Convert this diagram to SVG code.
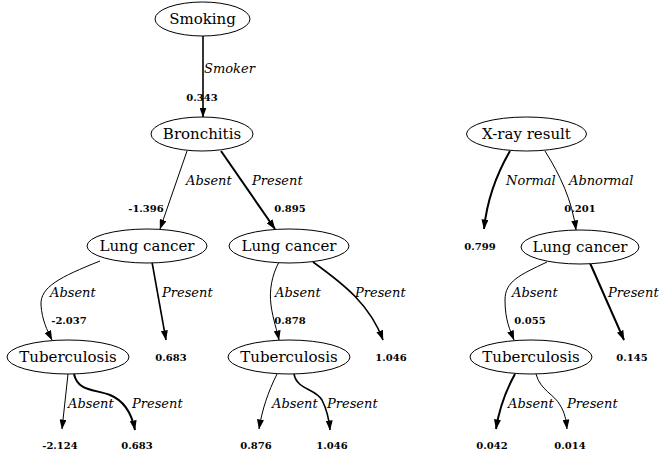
<svg xmlns="http://www.w3.org/2000/svg" width="660" height="454" viewBox="0 0 660 454">
<defs>
<marker id="ah" markerUnits="userSpaceOnUse" markerWidth="10" markerHeight="7" refX="9.5" refY="3.5" orient="auto">
<path d="M0,0 L10,3.5 L0,7 z" fill="#000"/>
</marker>
<style>
.n ellipse{fill:#fff;stroke:#000;stroke-width:1}
.n text{font-family:"DejaVu Serif",serif;font-size:15px;text-anchor:middle;fill:#000}
.e path{fill:none;stroke:#000;marker-end:url(#ah)}
.t1{stroke-width:1}
.t2{stroke-width:1.6}
.t3{stroke-width:2}
.lab{font-family:"DejaVu Serif",serif;font-style:italic;font-size:13px;fill:#000}
.num{font-family:"DejaVu Serif",serif;font-weight:bold;font-size:10px;text-anchor:middle;fill:#000}
</style>
</defs>
<rect width="660" height="454" fill="#fff"/>
<g id="connectors" class="e">
<path class="t2" d="M203,36 L203,117"/>
<path class="t1" d="M187,151 L160,229"/>
<path class="t3" d="M221,151 L275,229"/>
<path class="t3" d="M510,151 C496,175 487,200 484,229"/>
<path class="t1" d="M545,151 C560,175 572,200 576,230"/>
<path class="t1" d="M100,261 C60,277 40,287 41,305 C42,320 47,330 52,340"/>
<path class="t2" d="M152,262 L166,340"/>
<path class="t1" d="M68,374 L62,429"/>
<path class="t3" d="M74,374 C78,392 95,389 110,395 C125,401 132,415 135,430"/>
<path class="t1" d="M279,262 C272,275 269,290 271,305 C273,320 277,330 279,340"/>
<path class="t2" d="M313,262 C345,285 370,305 383,340"/>
<path class="t1" d="M277,374 C268,392 262,410 259,429"/>
<path class="t2" d="M294,374 C297,390 315,388 322,400 C327,410 329,418 330,430"/>
<path class="t1" d="M547,262 C520,275 505,281 505,300 C505,320 510,330 514,340"/>
<path class="t3" d="M590,263 L624,340"/>
<path class="t3" d="M515,374 C505,392 499,410 496,429"/>
<path class="t1" d="M536,374 C540,390 555,395 560,405 C565,413 566,420 567,429"/>
</g>
<g id="edge-labels">
<text class="lab" x="204" y="73">Smoker</text>
<text class="num" x="202" y="101">0.343</text>
<text class="lab" x="186" y="185">Absent</text>
<text class="num" x="146" y="212">-1.396</text>
<text class="lab" x="252" y="185">Present</text>
<text class="num" x="290" y="212">0.895</text>
<text class="lab" x="506" y="185">Normal</text>
<text class="num" x="480" y="250">0.799</text>
<text class="lab" x="569" y="185">Abnormal</text>
<text class="num" x="580" y="212">0.201</text>
<text class="lab" x="50" y="297">Absent</text>
<text class="num" x="69" y="324">-2.037</text>
<text class="lab" x="162" y="297">Present</text>
<text class="num" x="171" y="361">0.683</text>
<text class="lab" x="68" y="408">Absent</text>
<text class="num" x="60" y="449">-2.124</text>
<text class="lab" x="132" y="408">Present</text>
<text class="num" x="137" y="449">0.683</text>
<text class="lab" x="275" y="297">Absent</text>
<text class="num" x="290" y="324">0.878</text>
<text class="lab" x="355" y="297">Present</text>
<text class="num" x="391" y="361">1.046</text>
<text class="lab" x="272" y="408">Absent</text>
<text class="num" x="256" y="449">0.876</text>
<text class="lab" x="327" y="408">Present</text>
<text class="num" x="332" y="449">1.046</text>
<text class="lab" x="512" y="297">Absent</text>
<text class="num" x="530" y="324">0.055</text>
<text class="lab" x="608" y="297">Present</text>
<text class="num" x="632" y="361">0.145</text>
<text class="lab" x="508" y="408">Absent</text>
<text class="num" x="492" y="449">0.042</text>
<text class="lab" x="567" y="408">Present</text>
<text class="num" x="570" y="449">0.014</text>
</g>
<g id="smoking" class="n"><ellipse cx="202.5" cy="19" rx="47.5" ry="17"/><text x="202.5" y="24">Smoking</text></g>
<g id="bronchitis" class="n"><ellipse cx="202" cy="134" rx="51" ry="17"/><text x="202" y="139">Bronchitis</text></g>
<g id="xray" class="n"><ellipse cx="526.5" cy="134" rx="60" ry="17"/><text x="526.5" y="139">X-ray result</text></g>
<g id="lung-cancer-1" class="n"><ellipse cx="147" cy="246" rx="60" ry="17"/><text x="147" y="251">Lung cancer</text></g>
<g id="lung-cancer-2" class="n"><ellipse cx="289" cy="246" rx="60" ry="17"/><text x="289" y="251">Lung cancer</text></g>
<g id="lung-cancer-3" class="n"><ellipse cx="580" cy="247" rx="59" ry="17"/><text x="580" y="252">Lung cancer</text></g>
<g id="tuberculosis-1" class="n"><ellipse cx="68" cy="357" rx="61" ry="17"/><text x="68" y="362">Tuberculosis</text></g>
<g id="tuberculosis-2" class="n"><ellipse cx="289" cy="357" rx="61" ry="17"/><text x="289" y="362">Tuberculosis</text></g>
<g id="tuberculosis-3" class="n"><ellipse cx="531" cy="357" rx="61" ry="17"/><text x="531" y="362">Tuberculosis</text></g>
</svg>
